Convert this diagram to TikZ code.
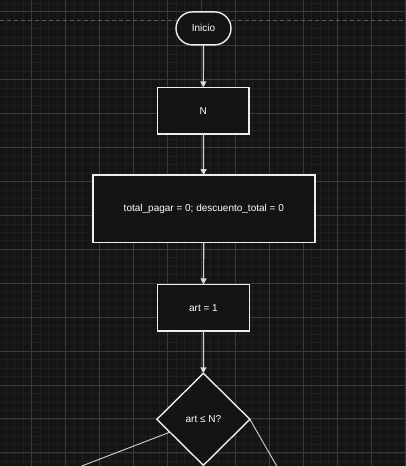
\documentclass[tikz,border=0pt]{standalone}
\usepackage{fontspec}
\setmainfont{Liberation Sans}
\usetikzlibrary{shapes.geometric,shapes.misc,arrows.meta}
\definecolor{bg}{HTML}{141414}
\definecolor{minorc}{HTML}{1F1F1F}
\definecolor{majorc}{HTML}{3A3A3A}
\definecolor{dashc}{HTML}{5A5A5A}
\definecolor{edgec}{HTML}{EDEDED}
\definecolor{linkc}{HTML}{D4D4D4}
\tikzset{
  x=1pt, y=-1pt,
  every node/.style={font=\fontsize{10}{12}\selectfont, text=white, inner sep=0pt, outer sep=0pt},
  boxst/.style={draw=edgec, fill=bg, line width=1.4pt, rectangle},
  termst/.style={draw=edgec, fill=bg, line width=1.4pt, rounded rectangle},
  decst/.style={draw=edgec, fill=bg, line width=1.4pt, diamond},
  flow/.style={draw=linkc, line width=1.2pt, -{Triangle[length=6pt,width=6pt,fill=white]}},
  plain/.style={draw=linkc, line width=0.9pt},
  minorl/.style={draw=minorc, line width=0.5pt},
  majorl/.style={draw=majorc, line width=0.8pt},
}
\begin{document}
\begin{tikzpicture}
\fill[bg] (0,0) rectangle (406,466);
\useasboundingbox (0,0) rectangle (406,466);
\begin{scope}
\clip (0,0) rectangle (406,466);
\foreach \i in {-4,...,48} { \draw[minorl] ({31.7+\i*8.4825},0) -- ({31.7+\i*8.4825},466); }
\foreach \j in {-2,...,55} { \draw[minorl] (0,{11.7+\j*8.4825}) -- (406,{11.7+\j*8.4825}); }
\foreach \i in {-1,...,11} { \draw[majorl] ({31.7+\i*33.93},0) -- ({31.7+\i*33.93},466); }
\foreach \j in {0,...,13} { \draw[majorl] (0,{11.7+\j*33.93}) -- (406,{11.7+\j*33.93}); }
\draw[dashc, line width=0.8pt, dash pattern=on 4pt off 3pt] (0,20) -- (406,20);
\end{scope}

\node[termst, minimum width=55pt, minimum height=33pt] (ini) at (203.5,28.4) {Inicio};
\node[boxst, minimum width=91.5pt, minimum height=46.5pt] (n) at (203.3,110.7) {N};
\node[boxst, minimum width=222pt, minimum height=67.5pt] (t) at (203.8,208.8) {total\_pagar = 0; descuento\_total = 0};
\node[boxst, minimum width=91.5pt, minimum height=46.5pt] (a) at (203.5,307.7) {art = 1};
\node[decst, minimum width=93pt, minimum height=92pt] (d) at (203.4,419.3) {art ≤ N?};

\coordinate (lfree) at (81.7,466);
\coordinate (rfree) at (276.7,466);

\draw[flow] (ini) -- (n);
\draw[flow] (n) -- (t);
\draw[flow] (t) -- (a);
\draw[flow] (a) -- (d);
\draw[plain] (d) -- (lfree);
\draw[plain] (d.east) -- (rfree);
\end{tikzpicture}
\end{document}
